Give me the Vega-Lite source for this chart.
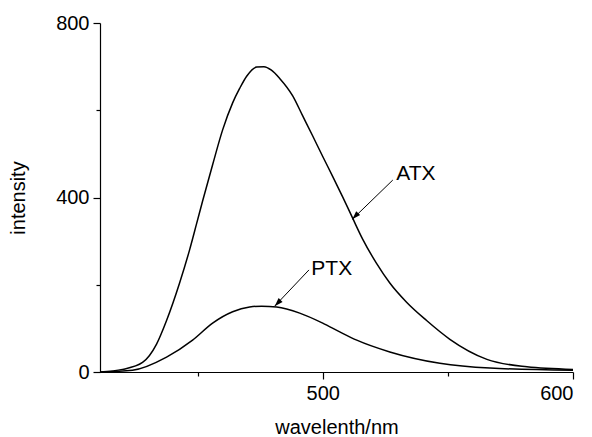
{
  "$schema": "https://vega.github.io/schema/vega-lite/v6.json",
  "width": 473,
  "height": 349,
  "autosize": {"type": "none"},
  "padding": {"left": 100, "top": 23, "right": 19, "bottom": 65},
  "background": "white",
  "config": {
    "view": {"stroke": null},
    "font": "Liberation Sans",
    "axis": {
      "grid": false,
      "domainColor": "black",
      "domainWidth": 1.2,
      "tickColor": "black",
      "tickWidth": 1.2,
      "labelColor": "black",
      "titleColor": "black",
      "labelFont": "Liberation Sans",
      "titleFont": "Liberation Sans",
      "labelFontSize": 20,
      "titleFontSize": 20,
      "titleFontWeight": "normal"
    }
  },
  "datasets": {
    "spectra": [
      {"series": "ATX", "w": 411, "v": 0},
      {"series": "ATX", "w": 420, "v": 6},
      {"series": "ATX", "w": 428, "v": 22},
      {"series": "ATX", "w": 433.6, "v": 64},
      {"series": "ATX", "w": 437.6, "v": 118},
      {"series": "ATX", "w": 442.8, "v": 204},
      {"series": "ATX", "w": 446.8, "v": 280},
      {"series": "ATX", "w": 449.6, "v": 340},
      {"series": "ATX", "w": 452, "v": 392},
      {"series": "ATX", "w": 456, "v": 475},
      {"series": "ATX", "w": 460, "v": 555},
      {"series": "ATX", "w": 464, "v": 617},
      {"series": "ATX", "w": 466.8, "v": 650},
      {"series": "ATX", "w": 469.6, "v": 678},
      {"series": "ATX", "w": 473.6, "v": 699},
      {"series": "ATX", "w": 476.5, "v": 700},
      {"series": "ATX", "w": 479.5, "v": 692},
      {"series": "ATX", "w": 482.8, "v": 673},
      {"series": "ATX", "w": 488, "v": 633},
      {"series": "ATX", "w": 492, "v": 587},
      {"series": "ATX", "w": 496, "v": 541},
      {"series": "ATX", "w": 500, "v": 494},
      {"series": "ATX", "w": 504, "v": 448},
      {"series": "ATX", "w": 508, "v": 401},
      {"series": "ATX", "w": 512, "v": 352},
      {"series": "ATX", "w": 516, "v": 304},
      {"series": "ATX", "w": 521.5, "v": 249},
      {"series": "ATX", "w": 526.8, "v": 204},
      {"series": "ATX", "w": 533.5, "v": 160},
      {"series": "ATX", "w": 541.5, "v": 118},
      {"series": "ATX", "w": 550.8, "v": 75},
      {"series": "ATX", "w": 565.6, "v": 29},
      {"series": "ATX", "w": 581.6, "v": 12},
      {"series": "ATX", "w": 600, "v": 6},
      {"series": "PTX", "w": 411, "v": 0},
      {"series": "PTX", "w": 424, "v": 4},
      {"series": "PTX", "w": 437.6, "v": 34},
      {"series": "PTX", "w": 448, "v": 73},
      {"series": "PTX", "w": 456, "v": 112},
      {"series": "PTX", "w": 464, "v": 138},
      {"series": "PTX", "w": 470.8, "v": 149},
      {"series": "PTX", "w": 475.6, "v": 151},
      {"series": "PTX", "w": 481.6, "v": 149},
      {"series": "PTX", "w": 490.8, "v": 135},
      {"series": "PTX", "w": 500, "v": 112},
      {"series": "PTX", "w": 506.8, "v": 92},
      {"series": "PTX", "w": 513.6, "v": 73},
      {"series": "PTX", "w": 526.8, "v": 46},
      {"series": "PTX", "w": 546.8, "v": 20},
      {"series": "PTX", "w": 566.8, "v": 9},
      {"series": "PTX", "w": 600, "v": 4}
    ],
    "notes": [
      {"label": "ATX", "tw": 537.2, "tv": 454, "w": 528, "v": 440, "w2": 511.8, "v2": 350},
      {"label": "PTX", "tw": 503.6, "tv": 237, "w": 494.5, "v": 234, "w2": 480.8, "v2": 151}
    ]
  },
  "layer": [
    {
      "data": {"name": "spectra"},
      "mark": {"type": "line", "color": "black", "strokeWidth": 1.5, "interpolate": "monotone"},
      "encoding": {
        "x": {
          "field": "w", "type": "quantitative",
          "scale": {"domain": [411, 600], "nice": false, "zero": false},
          "axis": {
            "title": "wavelenth/nm",
            "values": [450, 500, 550, 600],
            "labelExpr": "datum.value % 100 === 0 ? datum.label : ''",
            "tickSize": {"condition": {"test": "datum.value % 100 === 0", "value": 7}, "value": 4},
            "labelPadding": 4,
            "titlePadding": 14
          }
        },
        "y": {
          "field": "v", "type": "quantitative",
          "scale": {"domain": [0, 800], "nice": false},
          "axis": {
            "title": "intensity",
            "values": [0, 200, 400, 600, 800],
            "labelExpr": "datum.value % 400 === 0 ? datum.label : ''",
            "tickSize": {"condition": {"test": "datum.value % 400 === 0", "value": 7}, "value": 4},
            "labelPadding": 4,
            "titlePadding": 27
          }
        },
        "detail": {"field": "series"}
      }
    },
    {
      "data": {"name": "notes"},
      "mark": {"type": "rule", "color": "black", "strokeWidth": 1},
      "encoding": {
        "x": {"field": "w", "type": "quantitative"},
        "y": {"field": "v", "type": "quantitative"},
        "x2": {"field": "w2"},
        "y2": {"field": "v2"}
      }
    },
    {
      "data": {"name": "notes"},
      "mark": {"type": "point", "shape": "M0,0L-0.55,1.7L0.55,1.7Z", "filled": true, "color": "black", "opacity": 1, "size": 100, "angle": 224},
      "encoding": {
        "x": {"field": "w2", "type": "quantitative"},
        "y": {"field": "v2", "type": "quantitative"}
      }
    },
    {
      "data": {"name": "notes"},
      "mark": {"type": "text", "color": "black", "font": "Liberation Sans", "fontSize": 21, "align": "center", "baseline": "middle"},
      "encoding": {
        "x": {"field": "tw", "type": "quantitative"},
        "y": {"field": "tv", "type": "quantitative"},
        "text": {"field": "label"}
      }
    }
  ]
}
